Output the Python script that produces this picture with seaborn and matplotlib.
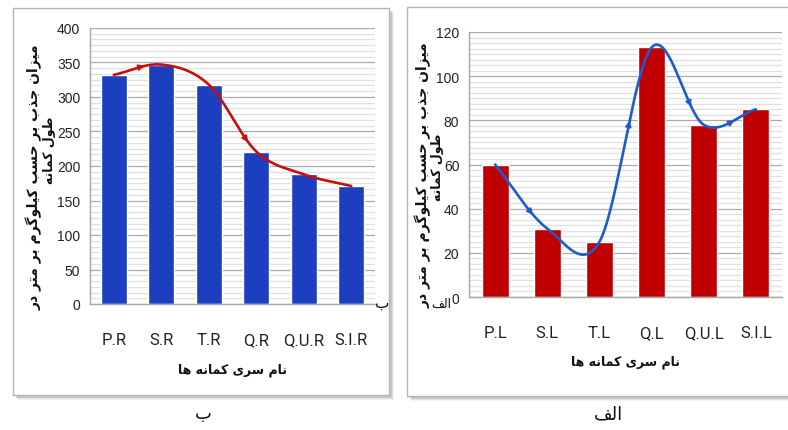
import numpy as np
import pandas as pd
import matplotlib
matplotlib.use("Agg")
import matplotlib.pyplot as plt
import seaborn as sns
from matplotlib.ticker import MultipleLocator, AutoMinorLocator
from matplotlib.patches import Rectangle

# Data
b_cats = ["P.R", "S.R", "T.R", "Q.R", "Q.U.R", "S.I.R"]
b_vals = [332, 347, 318, 221, 188, 171]

alef_cats = ["P.L", "S.L", "T.L", "Q.L", "Q.U.L", "S.I.L"]
alef_vals = [60, 31, 25, 113, 78, 85]

ylabel_1 = "میزان جذب بر حسب کیلوگرم بر متر در"
ylabel_2 = "طول کمانه"
xlabel = "نام سری کمانه ها"
cap_b = "ب"
cap_alef = "الف"

# Persian letters -> presentation forms (isolated, final, initial, medial)
FORMS = {
    "ا": ("\uFE8D", "\uFE8E", None, None),
    "ب": ("\uFE8F", "\uFE90", "\uFE91", "\uFE92"),
    "ت": ("\uFE95", "\uFE96", "\uFE97", "\uFE98"),
    "ج": ("\uFE9D", "\uFE9E", "\uFE9F", "\uFEA0"),
    "ح": ("\uFEA1", "\uFEA2", "\uFEA3", "\uFEA4"),
    "د": ("\uFEA9", "\uFEAA", None, None),
    "ذ": ("\uFEAB", "\uFEAC", None, None),
    "ر": ("\uFEAD", "\uFEAE", None, None),
    "ز": ("\uFEAF", "\uFEB0", None, None),
    "س": ("\uFEB1", "\uFEB2", "\uFEB3", "\uFEB4"),
    "ط": ("\uFEC1", "\uFEC2", "\uFEC3", "\uFEC4"),
    "ف": ("\uFED1", "\uFED2", "\uFED3", "\uFED4"),
    "ل": ("\uFEDD", "\uFEDE", "\uFEDF", "\uFEE0"),
    "م": ("\uFEE1", "\uFEE2", "\uFEE3", "\uFEE4"),
    "ن": ("\uFEE5", "\uFEE6", "\uFEE7", "\uFEE8"),
    "ه": ("\uFEE9", "\uFEEA", "\uFEEB", "\uFEEC"),
    "و": ("\uFEED", "\uFEEE", None, None),
    "ی": ("\uFBFC", "\uFBFD", "\uFBFE", "\uFBFF"),
    "ک": ("\uFB8E", "\uFB8F", "\uFB90", "\uFB91"),
    "گ": ("\uFB92", "\uFB93", "\uFB94", "\uFB95"),
}


def fa(s):
    out = []
    for i, c in enumerate(s):
        if c not in FORMS:
            out.append(c)
            continue
        prev = s[i - 1] if i > 0 else ""
        nxt = s[i + 1] if i + 1 < len(s) else ""
        jp = prev in FORMS and FORMS[prev][2] is not None
        jn = nxt in FORMS and FORMS[c][2] is not None
        iso, fin, ini, med = FORMS[c]
        if jp and jn:
            out.append(med)
        elif jp:
            out.append(fin)
        elif jn:
            out.append(ini)
        else:
            out.append(iso)
    return "".join(out)[::-1]


def hermite(vals, seg, t):
    y = np.asarray(vals, float)
    m = np.gradient(y)
    h00 = 2 * t**3 - 3 * t**2 + 1
    h10 = t**3 - 2 * t**2 + t
    h01 = -2 * t**3 + 3 * t**2
    h11 = t**3 - t**2
    return seg + t, h00 * y[seg] + h10 * m[seg] + h01 * y[seg + 1] + h11 * m[seg + 1]


def smooth(vals, n=40):
    xs, ys = [], []
    for i in range(len(vals) - 1):
        x, y = hermite(vals, i, np.linspace(0, 1, n))
        xs.append(x)
        ys.append(y)
    return np.concatenate(xs), np.concatenate(ys)


sns.set_style("white")
plt.rcParams["font.family"] = ["Liberation Sans", "DejaVu Sans"]

fig = plt.figure(figsize=(7.88, 4.31), dpi=100)
W, H = 788, 431


def fx(px):
    return px / W


def fy(py):
    return 1 - py / H


# panel frames with soft shadow
for x0, y0, x1, y1 in [(13, 9, 389, 396), (407, 8, 792, 397)]:
    for k, a in [(5, 0.10), (4, 0.15), (3, 0.25)]:
        fig.patches.append(Rectangle((fx(x0 + k), fy(y1 + k)), fx(x1 - x0), (y1 - y0) / H,
                                     transform=fig.transFigure, fc="#808080", ec="none",
                                     alpha=a, zorder=-3))
    fig.patches.append(Rectangle((fx(x0), fy(y1)), fx(x1 - x0), (y1 - y0) / H,
                                 transform=fig.transFigure, fc="white", ec="#b5b5b5",
                                 lw=1, zorder=-2))

panels = [
    dict(cats=b_cats, vals=b_vals, box=(90, 29, 375, 305), ymax=400, major=50, minor=6,
         bar="#1c3fc0", line="#c41010", width=0.55, arrows=[(0, 0.62), (2, 0.8)],
         tick_y=340, xl_y=370),
    dict(cats=alef_cats, vals=alef_vals, box=(469, 33, 782, 298), ymax=120, major=20, minor=8,
         bar="#c00000", line="#1f5cc8", width=0.52,
         arrows=[(0, 0.7), (2, 0.55), (3, 0.73), (4, 0.56)], tick_y=333, xl_y=362),
]

for p in panels:
    x0, y0, x1, y1 = p["box"]
    ax = fig.add_axes([fx(x0), fy(y1), fx(x1 - x0), (y1 - y0) / H])
    ax.patch.set_alpha(0)
    df = pd.DataFrame({"cat": p["cats"], "val": p["vals"]})
    sns.barplot(data=df, x="cat", y="val", color=p["bar"], saturation=1,
                width=p["width"], ax=ax, zorder=2)
    xs, ys = smooth(p["vals"])
    ax.plot(xs, ys, color=p["line"], lw=1.9, zorder=3, solid_capstyle="round")
    for seg, t in p["arrows"]:
        ax1, ay1 = hermite(p["vals"], seg, t - 0.03)
        ax2, ay2 = hermite(p["vals"], seg, t + 0.03)
        ax.annotate("", xy=(ax2, ay2), xytext=(ax1, ay1),
                    arrowprops=dict(arrowstyle="-|>", color=p["line"], lw=1.2,
                                    mutation_scale=9, shrinkA=0, shrinkB=0), zorder=4)
    ax.set_xlim(-0.5, len(p["cats"]) - 0.5)
    ax.set_ylim(0, p["ymax"])
    ax.yaxis.set_major_locator(MultipleLocator(p["major"]))
    ax.yaxis.set_minor_locator(AutoMinorLocator(p["minor"]))
    ax.grid(True, axis="y", which="major", color="#ababab", lw=0.9, zorder=0)
    ax.grid(True, axis="y", which="minor", color="#e0e0e0", lw=0.9, zorder=0)
    ax.set_axisbelow(True)
    for s in ["top", "right"]:
        ax.spines[s].set_visible(False)
    for s in ["left", "bottom"]:
        ax.spines[s].set_color("#a6a6a6")
        ax.spines[s].set_linewidth(1)
    ax.tick_params(axis="y", which="major", length=4, color="#a6a6a6", labelsize=10,
                   labelcolor="#222222", pad=3)
    ax.tick_params(axis="y", which="minor", length=0)
    pad_pt = (p["tick_y"] - y1 - 7) * 72 / 100
    ax.tick_params(axis="x", length=0, labelsize=12, labelcolor="#222222", pad=pad_pt)
    for lab in ax.get_xticklabels():
        lab.set_family(["Roboto", "DejaVu Sans"])
    ax.set_xlabel("")
    ax.set_ylabel("")
    fig.text(fx((x0 + x1) / 2), fy(p["xl_y"]), fa(xlabel), ha="center", va="center",
             fontsize=9, fontweight="bold", family="DejaVu Sans", color="#111111")

# y-axis titles (two lines each)
for lx1, ly1, lx2, ly2 in [(34, 177, 49, 150), (423, 175, 437, 167)]:
    fig.text(fx(lx1), fy(ly1), fa(ylabel_1), rotation=90, ha="center", va="center",
             fontsize=10, fontweight="bold", family="DejaVu Sans", color="#111111")
    fig.text(fx(lx2), fy(ly2), fa(ylabel_2), rotation=90, ha="center", va="center",
             fontsize=9, fontweight="bold", family="DejaVu Sans", color="#111111")

# captions and stray labels
fig.text(fx(203), fy(414), fa(cap_b), ha="center", va="center", fontsize=13,
         family="DejaVu Sans", color="#111111")
fig.text(fx(608), fy(414), fa(cap_alef), ha="center", va="center", fontsize=13,
         family="DejaVu Sans", color="#111111")
fig.text(fx(382), fy(303), fa(cap_b), ha="center", va="center", fontsize=11,
         family="DejaVu Sans", color="#111111")
fig.text(fx(441), fy(304), fa(cap_alef), ha="center", va="center", fontsize=9,
         family="DejaVu Sans", color="#111111")

fig.savefig("out.png", dpi=100)
